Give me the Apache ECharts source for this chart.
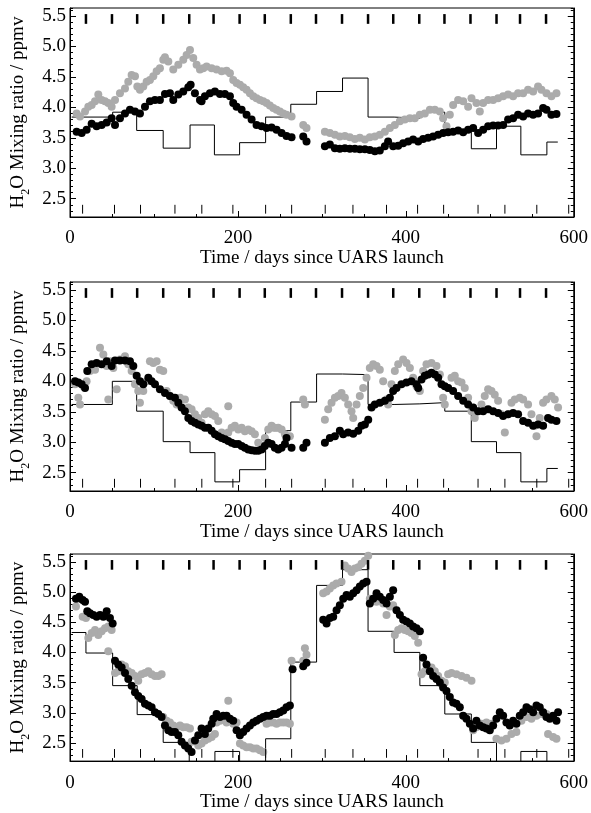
<!DOCTYPE html>
<html>
<head>
<meta charset="utf-8">
<title>H2O mixing ratio since UARS launch</title>
<script src="https://cdn.jsdelivr.net/npm/echarts@6/dist/echarts.min.js"></script>
<style>
  html, body { margin: 0; padding: 0; background: #fff; }
  #chart { width: 591px; height: 813px; }
</style>
</head>
<body>
<div id="chart"></div>
<script>
// days since launch of the month starts (top marks) and yaw manoeuvres (bottom marks)
const monthDays = [19, 50, 80, 111, 142, 171, 202, 232, 263, 293, 324, 355, 385, 416, 446, 477, 508, 536, 567]
const yawDays = [15, 53, 84, 125, 157, 194, 233, 264, 304, 337, 377, 414, 445, 486, 518, 556, 594]
const yTickLabels = [2.5, 3.0, 3.5, 4.0, 4.5, 5.0, 5.5]

// ---- panel 1 ----
const p1StepDays = [2, 50.8, 79.4, 111, 143, 172, 202, 233, 263, 293.7, 324.6, 355, 386, 416.7, 446.4, 478, 508, 537, 568, 581]
const p1StepVals = [3.84, 3.92, 3.62, 3.33, 3.71, 3.22, 3.42, 3.84, 4.05, 4.26, 4.48, 3.84, 3.82, 3.92, 3.63, 3.32, 3.69, 3.22, 3.43]
const p1Black = [
  [7.9, 3.60], [13.9, 3.58], [19.8, 3.63], [25.8, 3.73], [31.7, 3.69], [37.7, 3.71], [43.7, 3.75], [49.6, 3.82],
  [53.6, 3.71], [59.5, 3.82], [65.5, 3.90], [71.4, 3.96], [77.4, 3.93], [83.3, 3.90], [89.3, 4.01], [95.2, 4.10],
  [101.2, 4.12], [107.1, 4.12], [113.1, 4.22], [119.0, 4.23], [123.0, 4.12], [129.0, 4.21], [134.9, 4.26],
  [140.9, 4.33], [143.7, 4.37], [148.8, 4.23], [154.8, 4.12], [156.7, 4.10], [160.7, 4.18], [166.7, 4.23],
  [172.6, 4.26], [178.6, 4.22], [184.5, 4.22], [190.5, 4.18], [194.4, 4.07], [198.4, 4.01], [204.4, 3.96],
  [210.3, 3.88], [216.3, 3.80], [222.2, 3.71], [228.2, 3.69], [234.1, 3.66], [240.1, 3.67], [246.0, 3.63],
  [252.0, 3.58], [257.9, 3.53], [263.9, 3.51],
  [277.8, 3.52], [281.7, 3.44],
  [303.6, 3.36], [309.5, 3.39], [315.5, 3.33], [321.4, 3.32], [327.4, 3.33], [333.3, 3.32], [339.3, 3.32],
  [345.2, 3.31], [351.2, 3.31], [357.1, 3.30], [363.1, 3.28], [369.0, 3.29], [375.0, 3.36], [378.9, 3.44],
  [384.9, 3.36], [390.9, 3.37], [396.8, 3.41], [402.8, 3.44], [408.7, 3.47], [414.7, 3.44], [420.6, 3.48],
  [426.6, 3.50], [432.5, 3.52], [438.5, 3.55], [444.4, 3.58], [450.4, 3.59], [456.3, 3.60], [462.3, 3.62],
  [468.3, 3.59], [474.2, 3.63], [480.2, 3.66], [486.1, 3.58], [492.1, 3.63], [498.0, 3.69], [504.0, 3.70],
  [509.9, 3.70], [515.9, 3.71], [521.8, 3.80], [527.8, 3.82], [533.7, 3.88], [539.7, 3.85], [545.6, 3.90],
  [551.6, 3.88], [557.5, 3.90], [563.5, 3.99], [567.5, 3.96], [573.4, 3.88], [579.4, 3.89]
]
const p1Gray = [
  [7.9, 3.90], [11.9, 3.85], [17.9, 3.93], [21.8, 4.01], [25.8, 4.04], [29.8, 4.10], [33.7, 4.21], [37.7, 4.12],
  [41.7, 4.10], [45.6, 4.07], [49.6, 4.01], [53.6, 4.12], [59.5, 4.23], [65.5, 4.31], [69.4, 4.42], [73.4, 4.53],
  [77.4, 4.51], [80.2, 4.34], [83.3, 4.29], [87.3, 4.34], [91.3, 4.42], [95.2, 4.45], [99.2, 4.51], [103.2, 4.59],
  [107.1, 4.64], [111.1, 4.78], [113.1, 4.82], [117.1, 4.75], [123.0, 4.62], [129.0, 4.70], [134.9, 4.78],
  [138.9, 4.86], [142.9, 4.94], [146.8, 4.81], [150.8, 4.70], [154.8, 4.62], [158.7, 4.64], [162.7, 4.67],
  [168.7, 4.64], [174.6, 4.62], [180.6, 4.59], [186.5, 4.60], [190.5, 4.56], [194.4, 4.45], [198.4, 4.40],
  [202.4, 4.37], [206.3, 4.33], [210.3, 4.29], [214.3, 4.23], [218.3, 4.18], [222.2, 4.15], [226.2, 4.12],
  [230.2, 4.10], [234.1, 4.07], [238.1, 4.03], [242.1, 3.99], [246.0, 3.96], [250.0, 3.93], [254.0, 3.90],
  [257.9, 3.88], [263.9, 3.85],
  [277.8, 3.71], [281.7, 3.66],
  [303.6, 3.60], [309.5, 3.58], [315.5, 3.55], [321.4, 3.52], [327.4, 3.53], [333.3, 3.51], [339.3, 3.48],
  [345.2, 3.50], [351.2, 3.47], [357.1, 3.51], [363.1, 3.52], [369.0, 3.55], [375.0, 3.60], [381.0, 3.66],
  [386.9, 3.71], [392.9, 3.77], [398.8, 3.80], [404.8, 3.82], [410.7, 3.82], [416.7, 3.88], [422.6, 3.90],
  [428.6, 3.96], [434.5, 3.96], [440.5, 3.93], [444.4, 3.82], [448.4, 3.69], [452.4, 3.88], [456.3, 4.04],
  [462.3, 4.12], [468.3, 4.10], [474.2, 4.01], [478.2, 4.15], [484.1, 4.07], [488.1, 3.93], [492.1, 4.07],
  [498.0, 4.12], [504.0, 4.12], [509.9, 4.15], [515.9, 4.18], [521.8, 4.21], [527.8, 4.18], [533.7, 4.23],
  [539.7, 4.23], [545.6, 4.29], [551.6, 4.26], [557.5, 4.34], [561.5, 4.29], [567.5, 4.23], [573.4, 4.18],
  [579.4, 4.23]
]

// ---- panel 2 ----
const p2StepDays = [2, 50.4, 79.4, 111, 143, 172.6, 202, 233, 263, 293.7, 324.6, 355, 386, 416.7, 446.4, 478, 508, 537, 568, 581]
const p2StepVals = [3.62, 4.00, 3.51, 3.01, 2.83, 2.35, 2.55, 3.19, 3.66, 4.12, 4.11, 3.62, 3.63, 3.65, 3.51, 3.01, 2.83, 2.35, 2.57]
const p2Black = [
  [6.0, 4.00], [9.9, 3.98], [13.9, 3.95], [17.9, 3.89], [20.6, 4.17], [25.8, 4.28], [31.7, 4.30], [37.7, 4.28],
  [43.7, 4.33], [49.6, 4.25], [53.6, 4.34], [59.5, 4.34], [65.5, 4.34], [71.4, 4.33], [75.4, 4.25], [79.4, 4.09],
  [83.3, 4.00], [87.3, 3.95], [93.3, 4.06], [97.2, 4.00], [101.2, 3.95], [107.1, 3.87], [113.1, 3.81],
  [119.0, 3.76], [125.0, 3.73], [129.0, 3.65], [132.9, 3.57], [136.9, 3.51], [140.9, 3.40], [144.8, 3.35],
  [148.8, 3.32], [152.8, 3.29], [156.7, 3.27], [160.7, 3.24], [164.7, 3.24], [168.7, 3.19], [172.6, 3.13],
  [176.6, 3.10], [180.6, 3.07], [184.5, 3.05], [188.5, 3.02], [192.5, 2.99], [196.4, 2.97], [200.4, 2.97],
  [204.4, 2.94], [208.3, 2.91], [212.3, 2.88], [216.3, 2.87], [220.2, 2.86], [224.2, 2.86], [228.2, 2.88],
  [232.1, 2.94], [236.1, 2.99], [240.1, 2.97], [244.0, 2.91], [248.0, 2.88], [252.0, 2.91], [256.0, 2.97],
  [257.9, 3.07], [263.9, 2.91],
  [277.8, 2.91], [281.7, 2.99],
  [303.6, 2.99], [309.5, 3.07], [315.5, 3.10], [321.4, 3.19], [325.4, 3.13], [331.3, 3.16], [337.3, 3.14],
  [343.3, 3.19], [347.2, 3.27], [351.2, 3.29], [355.2, 3.37], [359.1, 3.57], [363.1, 3.62], [369.0, 3.65],
  [375.0, 3.68], [381.0, 3.73], [384.9, 3.84], [388.9, 3.89], [394.8, 3.95], [400.8, 3.98], [406.7, 4.00],
  [412.7, 3.95], [414.7, 3.89], [418.7, 4.03], [422.6, 4.09], [426.6, 4.11], [430.6, 4.14], [434.5, 4.11],
  [438.5, 4.06], [442.5, 3.95], [446.4, 3.92], [450.4, 3.89], [456.3, 3.84], [462.3, 3.76], [468.3, 3.68],
  [474.2, 3.62], [480.2, 3.57], [486.1, 3.51], [492.1, 3.51], [498.0, 3.54], [504.0, 3.51], [509.9, 3.48],
  [515.9, 3.43], [521.8, 3.46], [527.8, 3.48], [533.7, 3.46], [539.7, 3.35], [545.6, 3.32], [551.6, 3.27],
  [557.5, 3.29], [563.5, 3.27], [569.4, 3.40], [573.4, 3.37], [579.4, 3.35]
]
const p2Gray = [
  [6.0, 3.95], [9.9, 3.73], [11.9, 3.62], [15.9, 3.92], [19.8, 4.00], [23.8, 4.17], [29.8, 4.19], [35.7, 4.55],
  [39.7, 4.44], [43.7, 4.25], [45.6, 3.70], [47.6, 4.33], [51.6, 4.22], [55.6, 3.87], [59.5, 4.36], [65.5, 4.41],
  [69.4, 4.28], [73.4, 4.17], [77.4, 3.95], [81.3, 3.84], [83.3, 3.65], [87.3, 3.84], [91.3, 4.00], [95.2, 4.33],
  [99.2, 4.30], [103.2, 4.33], [107.1, 4.19], [111.1, 4.17], [115.1, 3.84], [119.0, 3.76], [123.0, 3.68],
  [127.0, 3.62], [131.0, 3.73], [136.9, 3.70], [140.9, 3.57], [144.8, 3.54], [148.8, 3.46], [152.8, 3.40],
  [156.7, 3.32], [160.7, 3.46], [164.7, 3.51], [168.7, 3.46], [172.6, 3.43], [176.6, 3.35], [180.6, 3.16],
  [184.5, 3.07], [188.5, 3.59], [188.5, 3.16], [192.5, 3.24], [196.4, 3.27], [200.4, 3.21], [204.4, 3.24],
  [208.3, 3.18], [212.3, 3.21], [216.3, 3.18], [220.2, 3.13], [224.2, 2.99], [228.2, 2.94], [232.1, 3.07],
  [236.1, 3.21], [240.1, 3.27], [244.0, 3.24], [248.0, 3.24], [252.0, 3.21], [256.0, 3.13], [261.9, 3.10],
  [277.8, 3.70], [279.8, 3.62],
  [303.6, 3.37], [307.5, 3.54], [311.5, 3.65], [315.5, 3.73], [319.4, 3.76], [323.4, 3.81], [327.4, 3.73],
  [331.3, 3.62], [335.3, 3.51], [337.3, 3.40], [341.3, 3.62], [345.2, 3.76], [349.2, 3.89], [353.2, 4.06],
  [357.1, 4.22], [361.1, 4.28], [365.1, 4.25], [369.0, 4.19], [373.0, 4.00], [377.0, 3.70], [378.9, 3.62],
  [382.9, 3.95], [386.9, 4.17], [390.9, 4.28], [396.8, 4.36], [400.8, 4.30], [404.8, 4.22], [408.7, 4.06],
  [412.7, 3.92], [416.7, 3.84], [420.6, 4.17], [424.6, 4.28], [430.6, 4.30], [436.5, 4.25], [440.5, 4.11],
  [444.4, 3.73], [446.4, 3.62], [450.4, 3.89], [454.4, 4.06], [458.3, 4.09], [462.3, 4.00], [466.3, 3.98],
  [470.2, 3.89], [474.2, 3.73], [478.2, 3.51], [482.1, 3.40], [486.1, 3.51], [490.1, 3.62], [494.0, 3.76],
  [498.0, 3.87], [502.0, 3.84], [505.9, 3.78], [509.9, 3.68], [513.9, 3.46], [517.9, 3.16], [521.8, 3.46],
  [525.8, 3.65], [529.8, 3.70], [535.7, 3.73], [539.7, 3.70], [545.6, 3.62], [549.6, 3.46], [553.6, 3.27],
  [555.6, 3.10], [559.5, 3.40], [563.5, 3.65], [567.5, 3.70], [573.4, 3.76], [577.4, 3.70], [581.3, 3.57]
]

// ---- panel 3 ----
const p3StepDays = [2, 19, 50.8, 80, 111, 142, 172.6, 202, 233, 263, 293.7, 324.6, 355, 386, 416.7, 446.4, 478, 508, 537, 568, 581]
const p3StepVals = [4.33, 3.99, 3.45, 2.97, 2.51, 2.1, 2.36, 2.1, 2.57, 3.84, 5.11, 5.37, 4.35, 4.00, 3.45, 2.98, 2.51, 2.1, 2.36, 2.1]
const p3Black = [
  [7.1, 4.89], [11.1, 4.92], [15.1, 4.87], [17.9, 4.84], [20.6, 4.68], [23.8, 4.65], [27.8, 4.62], [31.7, 4.59],
  [35.7, 4.62], [39.7, 4.59], [43.7, 4.68], [47.6, 4.57], [50.8, 4.48], [53.6, 3.86], [57.5, 3.80], [61.5, 3.75],
  [65.5, 3.66], [69.4, 3.56], [73.4, 3.45], [77.4, 3.34], [81.3, 3.28], [85.3, 3.23], [89.3, 3.15], [93.3, 3.12],
  [97.2, 3.09], [101.2, 3.01], [105.2, 2.98], [109.1, 2.93], [113.1, 2.79], [117.1, 2.71], [121.0, 2.68],
  [125.0, 2.68], [129.0, 2.63], [132.9, 2.52], [136.9, 2.46], [140.9, 2.41], [144.8, 2.35], [148.8, 2.54],
  [152.8, 2.63], [156.7, 2.74], [160.7, 2.65], [164.7, 2.74], [168.7, 2.82], [170.6, 2.90], [174.6, 2.98],
  [178.6, 2.93], [182.5, 2.95], [186.5, 2.95], [190.5, 2.90], [194.4, 2.87], [198.4, 2.71], [202.4, 2.63],
  [206.3, 2.68], [210.3, 2.74], [214.3, 2.79], [218.3, 2.84], [222.2, 2.87], [226.2, 2.90], [230.2, 2.93],
  [234.1, 2.95], [238.1, 2.95], [242.1, 2.98], [246.0, 2.98], [250.0, 3.01], [254.0, 3.04], [257.9, 3.09],
  [261.9, 3.12], [265.1, 3.72],
  [277.8, 3.77], [281.7, 3.83],
  [301.6, 4.54], [305.6, 4.48], [309.5, 4.57], [313.5, 4.59], [317.5, 4.70], [321.4, 4.78], [325.4, 4.89],
  [329.4, 4.95], [333.3, 4.92], [337.3, 4.98], [341.3, 5.03], [345.2, 5.09], [349.2, 5.14], [353.2, 5.17],
  [357.1, 4.81], [361.1, 4.89], [365.1, 4.98], [369.0, 4.92], [373.0, 4.87], [377.0, 4.81], [381.0, 4.92],
  [384.9, 5.03], [388.9, 4.70], [392.9, 4.62], [396.8, 4.54], [400.8, 4.51], [404.8, 4.48], [408.7, 4.43],
  [412.7, 4.40], [416.7, 4.35], [420.6, 3.91], [424.6, 3.80], [428.6, 3.69], [432.5, 3.61], [436.5, 3.56],
  [440.5, 3.50], [444.4, 3.42], [448.4, 3.36], [452.4, 3.26], [456.3, 3.17], [460.3, 3.15], [464.3, 3.09],
  [468.3, 2.95], [472.2, 2.90], [476.2, 2.82], [480.2, 2.74], [484.1, 2.87], [488.1, 2.79], [492.1, 2.76],
  [496.0, 2.74], [500.0, 2.71], [504.0, 2.79], [507.9, 2.90], [511.9, 3.01], [515.9, 2.95], [519.8, 2.84],
  [523.8, 2.79], [527.8, 2.87], [531.7, 2.82], [535.7, 2.95], [539.7, 3.01], [543.7, 3.09], [547.6, 3.06],
  [551.6, 3.01], [555.6, 3.12], [559.5, 3.09], [563.5, 3.01], [567.5, 2.93], [571.4, 2.90], [575.4, 2.95],
  [579.4, 2.87], [581.3, 3.01]
]
const p3Gray = [
  [7.1, 4.76], [11.1, 4.89], [15.1, 4.59], [19.0, 4.57], [21.8, 4.24], [25.8, 4.32], [29.8, 4.37], [33.7, 4.29],
  [37.7, 4.35], [41.7, 4.40], [45.6, 4.43], [49.6, 4.37], [45.6, 4.02], [53.6, 3.66], [57.5, 3.69], [61.5, 3.80],
  [65.5, 3.77], [69.4, 3.69], [73.4, 3.66], [77.4, 3.61], [81.3, 3.53], [85.3, 3.64], [89.3, 3.66], [93.3, 3.69],
  [97.2, 3.64], [101.2, 3.61], [105.2, 3.61], [109.1, 3.64], [111.1, 2.93], [115.1, 2.87], [119.0, 2.84],
  [123.0, 2.79], [127.0, 2.76], [131.0, 2.79], [134.9, 2.76], [138.9, 2.76], [142.9, 2.74], [144.8, 2.52],
  [148.8, 2.54], [152.8, 2.46], [156.7, 2.49], [160.7, 2.54], [164.7, 2.57], [168.7, 2.60], [172.6, 2.65],
  [174.6, 2.84], [178.6, 2.87], [182.5, 2.90], [186.5, 2.84], [188.5, 3.20], [190.5, 2.87], [194.4, 2.82],
  [198.4, 2.84], [202.4, 2.49], [206.3, 2.46], [210.3, 2.43], [214.3, 2.43], [218.3, 2.41], [222.2, 2.41],
  [226.2, 2.38], [230.2, 2.35], [234.1, 2.82], [238.1, 2.84], [242.1, 2.84], [246.0, 2.82], [250.0, 2.84],
  [254.0, 2.84], [257.9, 2.84], [261.9, 2.82], [263.9, 3.86],
  [277.8, 3.86], [279.8, 4.07], [281.7, 3.96],
  [301.6, 4.98], [305.6, 5.01], [309.5, 5.06], [313.5, 5.11], [317.5, 5.14], [323.4, 5.17], [327.4, 5.44],
  [331.3, 5.39], [335.3, 5.33], [339.3, 5.39], [343.3, 5.41], [347.2, 5.47], [351.2, 5.52], [355.2, 5.60],
  [357.1, 4.89], [361.1, 4.87], [365.1, 4.84], [369.0, 4.87], [373.0, 4.81], [377.0, 4.62], [381.0, 4.76],
  [384.9, 4.78], [386.9, 4.29], [390.9, 4.37], [394.8, 4.40], [398.8, 4.37], [402.8, 4.35], [406.7, 4.32],
  [410.7, 4.27], [414.7, 4.16], [418.7, 3.64], [422.6, 3.69], [426.6, 3.75], [430.6, 3.75], [434.5, 3.69],
  [438.5, 3.61], [442.5, 3.53], [446.4, 3.50], [450.4, 3.64], [454.4, 3.66], [460.3, 3.64], [466.3, 3.61],
  [472.2, 3.58], [478.2, 3.53], [480.2, 2.71], [484.1, 2.76], [490.1, 2.82], [496.0, 2.84], [502.0, 2.82],
  [507.9, 2.57], [513.9, 2.54], [519.8, 2.57], [525.8, 2.65], [531.7, 2.68], [537.7, 2.87], [543.7, 2.93],
  [549.6, 2.90], [555.6, 2.95], [561.5, 2.98], [567.5, 2.98], [569.4, 2.65], [575.4, 2.60], [579.4, 2.57]
]

const FONT = '"Liberation Serif", "Times New Roman", serif'
const Y_MIN = 2.2
const Y_MAX = 5.63
const panelTops = [8, 282, 554]
const panelHeight = 209

function stepData(days, vals) {
  const out = []
  for (let i = 0; i < vals.length; i++) out.push([days[i], vals[i]])
  out.push([days[days.length - 1], vals[vals.length - 1]])
  return out
}

function markSeries(gi, days, lo, hi, width) {
  return {
    type: 'custom',
    xAxisIndex: gi,
    yAxisIndex: gi * 4,
    z: 5,
    data: days.map(d => [d, (lo + hi) / 2]),
    renderItem: (params, api) => {
      const a = api.coord([api.value(0), lo])
      const b = api.coord([api.value(0), hi])
      return {
        type: 'line',
        shape: { x1: a[0], y1: a[1], x2: b[0], y2: b[1] },
        style: { stroke: '#000', lineWidth: width }
      }
    }
  }
}

const grids = []
const xAxes = []
const yAxes = []
const series = []

const panels = [
  [p1StepDays, p1StepVals, p1Black, p1Gray],
  [p2StepDays, p2StepVals, p2Black, p2Gray],
  [p3StepDays, p3StepVals, p3Black, p3Gray]
]

panels.forEach(([sd, sv, black, gray], i) => {
  grids.push({
    left: 70, right: 17, top: panelTops[i], height: panelHeight,
    show: true, borderColor: '#000', borderWidth: 1, backgroundColor: 'transparent'
  })
  xAxes.push({
    type: 'value', gridIndex: i, min: 0, max: 600, interval: 200,
    axisLine: { lineStyle: { color: '#000', width: 1 } },
    axisTick: { inside: true, length: 6, lineStyle: { color: '#000' } },
    minorTick: { show: true, splitNumber: 4, length: 3, lineStyle: { color: '#000' } },
    splitLine: { show: false },
    axisLabel: { fontFamily: FONT, fontSize: 19, color: '#000', margin: 12 },
    name: 'Time / days since UARS launch',
    nameLocation: 'middle',
    nameGap: 31,
    nameTextStyle: { fontFamily: FONT, fontSize: 19, color: '#000' }
  })
  // left: labelled major ticks
  yAxes.push({
    type: 'value', gridIndex: i, position: 'left', min: Y_MIN, max: Y_MAX,
    axisLine: { show: true, lineStyle: { color: '#000', width: 1 } },
    axisTick: { show: true, inside: true, length: 6, customValues: yTickLabels, lineStyle: { color: '#000' } },
    axisLabel: {
      customValues: yTickLabels, formatter: v => v.toFixed(1),
      fontFamily: FONT, fontSize: 19, color: '#000', margin: 4
    },
    splitLine: { show: false },
    name: '{a|H}{s|2}{a|O Mixing ratio / ppmv}',
    nameLocation: 'middle',
    nameRotate: 90,
    nameGap: 38,
    nameTextStyle: {
      fontFamily: FONT, fontSize: 19, color: '#000',
      rich: {
        a: { fontFamily: FONT, fontSize: 19, color: '#000', lineHeight: 26, verticalAlign: 'middle' },
        s: { fontFamily: FONT, fontSize: 12, color: '#000', lineHeight: 26, verticalAlign: 'bottom' }
      }
    }
  })
  // left: minor ticks
  yAxes.push({
    type: 'value', gridIndex: i, position: 'left', min: Y_MIN, max: Y_MAX, interval: 0.1,
    axisLine: { show: false },
    axisTick: { show: true, inside: true, length: 3, lineStyle: { color: '#000' } },
    axisLabel: { show: false },
    splitLine: { show: false }
  })
  // right: major ticks
  yAxes.push({
    type: 'value', gridIndex: i, position: 'right', min: Y_MIN, max: Y_MAX,
    axisLine: { show: true, lineStyle: { color: '#000', width: 1 } },
    axisTick: { show: true, inside: true, length: 6, customValues: yTickLabels, lineStyle: { color: '#000' } },
    axisLabel: { show: false },
    splitLine: { show: false }
  })
  // right: minor ticks
  yAxes.push({
    type: 'value', gridIndex: i, position: 'right', min: Y_MIN, max: Y_MAX, interval: 0.1,
    axisLine: { show: false },
    axisTick: { show: true, inside: true, length: 3, lineStyle: { color: '#000' } },
    axisLabel: { show: false },
    splitLine: { show: false }
  })

  series.push({
    type: 'line', xAxisIndex: i, yAxisIndex: i * 4, step: 'end',
    symbol: 'none', clip: true, z: 1,
    lineStyle: { color: '#000', width: 1 },
    data: stepData(sd, sv)
  })
  series.push({
    type: 'scatter', xAxisIndex: i, yAxisIndex: i * 4, z: 2, clip: true,
    symbolSize: 8, itemStyle: { color: '#ababab', opacity: 1 },
    data: gray
  })
  series.push({
    type: 'scatter', xAxisIndex: i, yAxisIndex: i * 4, z: 3, clip: true,
    symbolSize: 8, itemStyle: { color: '#000', opacity: 1 },
    data: black
  })
  series.push(markSeries(i, monthDays, 5.37, 5.53, 2.5))
  series.push(markSeries(i, yawDays, 2.255, 2.40, 1))
})

const chart = echarts.init(document.getElementById('chart'), null, { renderer: 'canvas' })
chart.setOption({
  animation: false,
  backgroundColor: '#fff',
  grid: grids,
  xAxis: xAxes,
  yAxis: yAxes,
  series: series
})
</script>
</body>
</html>
